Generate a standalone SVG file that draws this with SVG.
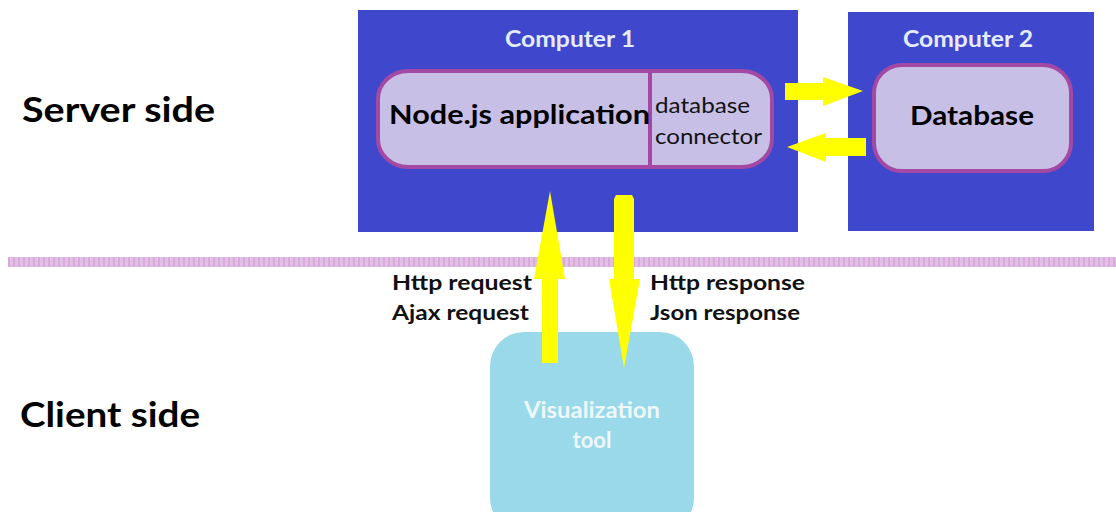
<svg xmlns="http://www.w3.org/2000/svg" width="1116" height="512" viewBox="0 0 1116 512">
<style>
.t{font-family:Lato,"Open Sans","Liberation Sans",sans-serif;font-weight:bold;}
.comp{fill:#3f48cc;}
.ct{fill:#e6ecff;font-size:22px;}
.inner{fill:#c8bfe7;stroke:#a349a4;stroke-width:4;}
.arr{fill:#ffff00;}
.lbl{fill:#111;font-size:20px;}
</style>
<rect width="1116" height="512" fill="#fff"/>
<g id="divider">
<line x1="8" y1="262" x2="1116" y2="262" stroke="#e2c0e3" stroke-width="10"/>
<line x1="8" y1="262" x2="1116" y2="262" stroke="#d29ad4" stroke-width="10" stroke-dasharray="2 3" opacity="0.6"/>
</g>
<g id="side-labels">
<text class="t" x="22" y="122" font-size="34" fill="#000" textLength="193" lengthAdjust="spacingAndGlyphs">Server side</text>
<text class="t" x="20" y="427" font-size="34" fill="#000" textLength="180" lengthAdjust="spacingAndGlyphs">Client side</text>
</g>
<g id="computer1">
<rect class="comp" x="358" y="10" width="440" height="222"/>
<text class="t ct" x="570" y="47" text-anchor="middle" textLength="130" lengthAdjust="spacingAndGlyphs">Computer 1</text>
</g>
<g id="computer2">
<rect class="comp" x="848" y="12" width="246" height="219"/>
<text class="t ct" x="968" y="47" text-anchor="middle" textLength="130" lengthAdjust="spacingAndGlyphs">Computer 2</text>
</g>
<g id="nodejs">
<rect class="inner" x="378" y="71" width="394" height="96" rx="30" ry="28"/>
<line x1="650" y1="71" x2="650" y2="167" stroke="#a349a4" stroke-width="4"/>
<text class="t" x="389" y="124" font-size="26" fill="#000" textLength="261" lengthAdjust="spacingAndGlyphs">Node.js application</text>
<text x="655" y="113" font-family="Lato,'Open Sans','Liberation Sans',sans-serif" font-size="21" fill="#111" textLength="95" lengthAdjust="spacingAndGlyphs">database</text>
<text x="655" y="144" font-family="Lato,'Open Sans','Liberation Sans',sans-serif" font-size="21" fill="#111" textLength="107" lengthAdjust="spacingAndGlyphs">connector</text>
</g>
<g id="database">
<rect class="inner" x="874" y="65" width="197" height="106" rx="28" ry="28"/>
<text class="t" x="972" y="125" font-size="26" fill="#000" text-anchor="middle" textLength="124" lengthAdjust="spacingAndGlyphs">Database</text>
</g>
<g id="client">
<rect x="490" y="332" width="204" height="200" rx="34" ry="34" fill="#99d9ea"/>
<text class="t" x="592" y="418" font-size="22" fill="#eef8fb" text-anchor="middle" textLength="136" lengthAdjust="spacingAndGlyphs">Visualization</text>
<text class="t" x="592" y="448" font-size="22" fill="#eef8fb" text-anchor="middle">tool</text>
</g>
<g id="connectors">
<polygon class="arr" points="785,83 823,83 823,77 863,91 823,106 823,100 785,100"/>
<polygon class="arr" points="866,138 826,138 826,133 787,147 826,162 826,156 866,156"/>
<polygon class="arr" points="542,363 542,279 534,279 550,191 565,279 558,279 558,363"/>
<polygon class="arr" points="614,199 616,195 632,195 634,199 634,279 640,279 624,368 609,279 614,279"/>
<text class="t lbl" x="392" y="290" textLength="140" lengthAdjust="spacingAndGlyphs">Http request</text>
<text class="t lbl" x="392" y="320" textLength="137" lengthAdjust="spacingAndGlyphs">Ajax request</text>
<text class="t lbl" x="650" y="290" textLength="155" lengthAdjust="spacingAndGlyphs">Http response</text>
<text class="t lbl" x="650" y="320" textLength="150" lengthAdjust="spacingAndGlyphs">Json response</text>
</g>
</svg>
